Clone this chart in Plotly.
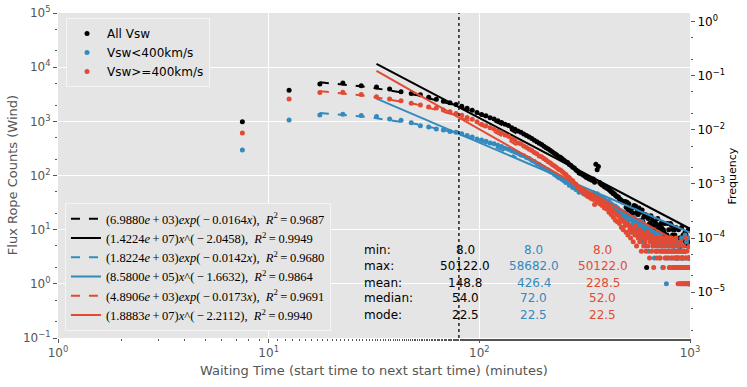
import plotly.graph_objects as go

# histogram bin centres (minutes)
waiting_time = [
    7.5, 12.5, 17.5, 22.5, 27.5, 32.5, 37.5, 42.5, 47.5, 52.5,
    57.5, 62.5, 67.5, 72.5, 77.5, 82.5, 87.5, 92.5, 97.5, 102.5,
    107.5, 112.5, 117.5, 122.5, 127.5, 132.5, 137.5, 142.5, 147.5, 152.5,
    157.5, 162.5, 167.5, 172.5, 177.5, 182.5, 187.5, 192.5, 197.5, 202.5,
    207.5, 212.5, 217.5, 222.5, 227.5, 232.5, 237.5, 242.5, 247.5, 252.5,
    257.5, 262.5, 267.5, 272.5, 277.5, 282.5, 287.5, 292.5, 297.5, 302.5,
    307.5, 312.5, 317.5, 322.5, 327.5, 332.5, 337.5, 342.5, 347.5, 352.5,
    357.5, 362.5, 367.5, 372.5, 377.5, 382.5, 387.5, 392.5, 397.5, 402.5,
    407.5, 412.5, 417.5, 422.5, 427.5, 432.5, 437.5, 442.5, 447.5, 452.5,
    457.5, 462.5, 467.5, 472.5, 477.5, 482.5, 487.5, 492.5, 497.5, 502.5,
    507.5, 512.5, 517.5, 522.5, 527.5, 532.5, 537.5, 542.5, 547.5, 552.5,
    557.5, 562.5, 567.5, 572.5, 577.5, 582.5, 587.5, 592.5, 597.5, 602.5,
    607.5, 612.5, 617.5, 622.5, 627.5, 632.5, 637.5, 642.5, 647.5, 652.5,
    657.5, 662.5, 667.5, 672.5, 677.5, 682.5, 687.5, 692.5, 697.5, 702.5,
    707.5, 712.5, 717.5, 722.5, 727.5, 732.5, 737.5, 742.5, 747.5, 752.5,
    757.5, 762.5, 767.5, 772.5, 777.5, 782.5, 787.5, 792.5, 797.5, 802.5,
    807.5, 812.5, 817.5, 822.5, 827.5, 832.5, 837.5, 842.5, 847.5, 852.5,
    857.5, 862.5, 867.5, 872.5, 877.5, 882.5, 887.5, 892.5, 897.5, 902.5,
    907.5, 912.5, 917.5, 922.5, 927.5, 932.5, 937.5, 942.5, 947.5, 952.5,
    957.5, 962.5, 967.5, 972.5, 977.5, 982.5, 987.5, 992.5, 997.5,
]

counts_all = [
    980, 3750, 4900, 5100, 4550, 4300, 3950, 3500, 3250, 3080,
    2780, 2560, 2350, 2200, 2040, 1900, 1740, 1610, 1460, 1340,
    1270, 1160, 1110, 1020, 955, 880, 840, 765, 718, 660,
    628, 583, 546, 512, 482, 449, 420, 392, 372, 347,
    327, 308, 290, 272, 256, 242, 224, 217, 204, 192,
    180, 174, 159, 153, 142, 137, 126, 121, 111, 109,
    106, 101, 97, 92, 90, 86, 85, 82, 86, 75,
    162, 128, 146, 74, 70, 67, 66, 62, 61, 59,
    57, 55, 53, 50, 49, 46, 46, 43, 42, 40,
    40, 37, 36, 34, 34, 32, 32, 33, 26, 32,
    23, 30, 23, 24, 21, 25, 20, 28, 19, 27,
    14, 22, 19, 25, 14, 21, 15, 23, 14, 17,
    18, 19, 10, 2, 18, 16, 12, 13, 13, 18,
    11, 15, 10, 12, 10, 14, 13, 9, 10, 16,
    12, 11, 10, 9, 13, 11, 9, 8, 10, 9,
    13, 8, 8, 7, 8, 13, 6, 10, 6, 7,
    13, 7, 12, 7, 8, 10, 5, 10, 8, 6,
    11, 6, 3, 6, 5, 10, 6, 7, 5, 7,
    5, 11, 3, 7, 8, 2, 8, 4, 9, 6,
    8, 7, 6, 5, 2, 10, 3, 6, 5,
]

counts_slow = [
    295, 1060, 1310, 1355, 1280, 1225, 1110, 1045, 940, 830,
    790, 725, 690, 650, 630, 590, 545, 515, 470, 452,
    430, 398, 384, 360, 342, 318, 305, 286, 270, 258,
    240, 231, 214, 205, 190, 181, 166, 160, 148, 140,
    131, 126, 117, 112, 104, 99, 92, 89, 84, 80,
    74, 77, 66, 68, 60, 63, 55, 57, 49, 52,
    54, 46, 50, 43, 47, 41, 45, 39, 48, 44,
    40, 46, 37, 41, 35, 38, 33, 36, 31, 34,
    29, 33, 27, 30, 25, 28, 24, 27, 22, 25,
    21, 23, 19, 22, 18, 21, 17, 20, 16, 19,
    14, 18, 12, 16, 9, 15, 13, 17, 10, 14,
    8, 13, 11, 15, 7, 12, 10, 14, 6, 11,
    9, 12, 5, 10, 8, 11, 4, 9, 7, 10,
    6, 8, 5, 9, 3, 7, 8, 4, 6, 9,
    5, 7, 3, 6, 8, 4, 5, 2, 7, 4,
    6, 3, 5, 1, 4, 6, 3, 5, 2, 4,
    7, 3, 5, 4, 2, 6, 3, 4, 5, 2,
    4, 3, 6, 2, 4, 5, 3, 2, 4, 1,
    3, 7, 2, 4, 3, 1, 4, 2, 8, 3,
    1, 6, 2, 3, 1, 7, 2, 1, 3,
]

counts_fast = [
    610, 2590, 3390, 3460, 3120, 2850, 2580, 2400, 2160, 2000,
    1840, 1760, 1620, 1500, 1390, 1300, 1180, 1090, 985, 880,
    830, 760, 720, 655, 610, 560, 530, 475, 445, 400,
    385, 350, 330, 305, 290, 266, 252, 230, 222, 205,
    194, 180, 171, 158, 150, 141, 130, 126, 118, 110,
    104, 95, 91, 83, 80, 72, 69, 62, 60, 55,
    50, 53, 45, 48, 41, 44, 38, 42, 36, 29,
    39, 33, 36, 30, 34, 28, 31, 25, 29, 24,
    27, 21, 25, 19, 23, 17, 21, 15, 19, 14,
    18, 13, 16, 11, 15, 10, 14, 12, 9, 13,
    8, 12, 10, 7, 11, 9, 6, 10, 8, 12,
    5, 9, 7, 10, 6, 8, 4, 9, 7, 5,
    8, 6, 4, 7, 9, 5, 7, 3, 6, 8,
    4, 7, 5, 2, 6, 7, 4, 5, 3, 7,
    6, 4, 7, 3, 5, 7, 4, 6, 2, 5,
    7, 4, 3, 6, 4, 7, 3, 5, 4, 2,
    6, 4, 7, 3, 5, 4, 2, 6, 3, 4,
    7, 3, 2, 4, 1, 5, 3, 4, 1, 6,
    2, 4, 1, 3, 5, 1, 4, 2, 1, 3,
    7, 1, 4, 2, 1, 3, 1, 5, 2,
]

# fitted curves
exp_x = [17.5, 30, 50, 75, 100, 125, 150]
exp_all = [5245, 4272, 3078, 2043, 1356, 899, 597]
exp_slow = [1421, 1190, 896, 628, 440, 309, 217]
exp_fast = [3613, 2910, 2059, 1336, 867, 562, 365]

pow_x = [32.5, 1000]
pow_all = [11480, 10.4]
pow_slow = [2620, 8.8]
pow_fast = [8570, 4.4]

fit_labels = [
    "(6.9880<i>e</i>\u2009+\u200903)<i>exp</i>(\u2009\u2212\u20090.0164<i>x</i>),  <i>R</i><sup>2</sup>\u2009=\u20090.9687",
    "(1.4224<i>e</i>\u2009+\u200907)<i>x</i>^(\u2009\u2212\u20092.0458),  <i>R</i><sup>2</sup>\u2009=\u20090.9949",
    "(1.8224<i>e</i>\u2009+\u200903)<i>exp</i>(\u2009\u2212\u20090.0142<i>x</i>),  <i>R</i><sup>2</sup>\u2009=\u20090.9680",
    "(8.5800<i>e</i>\u2009+\u200905)<i>x</i>^(\u2009\u2212\u20091.6632),  <i>R</i><sup>2</sup>\u2009=\u20090.9864",
    "(4.8906<i>e</i>\u2009+\u200903)<i>exp</i>(\u2009\u2212\u20090.0173<i>x</i>),  <i>R</i><sup>2</sup>\u2009=\u20090.9691",
    "(1.8883<i>e</i>\u2009+\u200907)<i>x</i>^(\u2009\u2212\u20092.2112),  <i>R</i><sup>2</sup>\u2009=\u20090.9940",
]

stat_names = ["min:", "max:", "mean:", "median:", "mode:"]
stats_all = ["8.0", "50122.0", "148.8", "54.0", "22.5"]
stats_slow = ["8.0", "58682.0", "426.4", "72.0", "22.5"]
stats_fast = ["8.0", "50122.0", "228.5", "52.0", "22.5"]

marker_line = 80

BLACK = "#000000"
BLUE = "#348ABD"
RED = "#E24A33"
GREY = "#555555"

series = [
    ("All Vsw", counts_all, exp_all, pow_all, BLACK),
    ("Vsw<400km/s", counts_slow, exp_slow, pow_slow, BLUE),
    ("Vsw>=400km/s", counts_fast, exp_fast, pow_fast, RED),
]

fig = go.Figure()
for k, (name, counts, e_fit, p_fit, col) in enumerate(series):
    fig.add_trace(go.Scatter(x=waiting_time, y=counts, mode="markers", name=name,
                             marker=dict(color=col, size=5), legend="legend"))
    fig.add_trace(go.Scatter(x=exp_x, y=e_fit, mode="lines", name=fit_labels[2 * k],
                             line=dict(color=col, width=2, dash="dash"), legend="legend2"))
    fig.add_trace(go.Scatter(x=pow_x, y=p_fit, mode="lines", name=fit_labels[2 * k + 1],
                             line=dict(color=col, width=2), legend="legend2"))

fig.add_trace(go.Scatter(x=[marker_line, marker_line], y=[0.1, 1e5], mode="lines",
                         line=dict(color="black", width=1.3, dash="dot"), showlegend=False))
# twin axis for frequency
fig.add_trace(go.Scatter(x=[], y=[], yaxis="y2", showlegend=False))

rows_y = [0.271, 0.221, 0.169, 0.122, 0.071]
for i in range(5):
    fig.add_annotation(x=0.481, y=rows_y[i], xref="paper", yref="paper", text=stat_names[i],
                       showarrow=False, xanchor="left", yanchor="middle",
                       font=dict(color="black", size=12))
    fig.add_annotation(x=0.644, y=rows_y[i], xref="paper", yref="paper", text=stats_all[i],
                       showarrow=False, xanchor="center", yanchor="middle",
                       font=dict(color="black", size=12))
    fig.add_annotation(x=0.753, y=rows_y[i], xref="paper", yref="paper", text=stats_slow[i],
                       showarrow=False, xanchor="center", yanchor="middle",
                       font=dict(color=BLUE, size=12))
    fig.add_annotation(x=0.862, y=rows_y[i], xref="paper", yref="paper", text=stats_fast[i],
                       showarrow=False, xanchor="center", yanchor="middle",
                       font=dict(color=RED, size=12))

fig.add_annotation(x=-0.0717, y=0.5, xref="paper", yref="paper", text="Flux Rope Counts (Wind)",
                   textangle=-90, showarrow=False, xanchor="center", yanchor="middle",
                   font=dict(color=GREY, size=13))
fig.add_annotation(x=0.5, y=-0.1015, xref="paper", yref="paper",
                   text="Waiting Time (start time to next start time) (minutes)",
                   showarrow=False, xanchor="center", yanchor="middle",
                   font=dict(color=GREY, size=13))
fig.add_annotation(x=1.068, y=0.5, xref="paper", yref="paper", text="Frequency",
                   textangle=-90, showarrow=False, xanchor="center", yanchor="middle",
                   font=dict(color="black", size=11))

fig.update_layout(
    width=747, height=387,
    margin=dict(l=58, r=57, t=13, b=49, autoexpand=False),
    paper_bgcolor="white",
    plot_bgcolor="#E5E5E5",
    font=dict(family="DejaVu Sans", size=12, color=GREY),
    legend=dict(x=0.0127, y=0.985, xanchor="left", yanchor="top",
                bgcolor="#E5E5E5", bordercolor="#F4F4F4", borderwidth=1,
                font=dict(size=12, color="black"), itemwidth=30, tracegroupgap=0),
    legend2=dict(x=0.011, y=0.415, xanchor="left", yanchor="top",
                 bgcolor="#E5E5E5", bordercolor="#F4F4F4", borderwidth=1,
                 font=dict(family="Liberation Serif", size=12.5, color="black"), itemwidth=30),
    xaxis=dict(type="log", range=[0, 3], showgrid=True, gridcolor="white", gridwidth=1,
               zeroline=False, automargin=False, tickvals=[1, 10, 100, 1000],
               ticktext=["10<sup>0</sup>", "10<sup>1</sup>", "10<sup>2</sup>", "10<sup>3</sup>"],
               ticks="outside", ticklen=4, tickcolor=GREY, tickfont=dict(size=12, color=GREY),
               minor=dict(ticks="outside", ticklen=2, tickcolor=GREY, showgrid=False)),
    yaxis=dict(type="log", range=[-1, 5], showgrid=True, gridcolor="white", gridwidth=1,
               zeroline=False, automargin=False, tickvals=[0.1, 1, 10, 100, 1000, 10000, 100000],
               ticktext=["10<sup>\u22121</sup>", "10<sup>0</sup>", "10<sup>1</sup>", "10<sup>2</sup>",
                         "10<sup>3</sup>", "10<sup>4</sup>", "10<sup>5</sup>"],
               ticks="outside", ticklen=4, tickcolor=GREY, tickfont=dict(size=12, color=GREY),
               minor=dict(ticks="outside", ticklen=2, tickcolor=GREY, showgrid=False)),
    yaxis2=dict(type="log", range=[-5.845, 0.155], overlaying="y", side="right", showgrid=False,
                zeroline=False, automargin=False, tickvals=[1e-5, 1e-4, 1e-3, 1e-2, 1e-1, 1],
                ticktext=["10<sup>\u22125</sup>", "10<sup>\u22124</sup>", "10<sup>\u22123</sup>",
                          "10<sup>\u22122</sup>", "10<sup>\u22121</sup>", "10<sup>0</sup>"],
                ticks="outside", ticklen=4, tickcolor=GREY, tickfont=dict(size=12, color="black"),
                minor=dict(ticks="outside", ticklen=2, tickcolor=GREY, showgrid=False)),
)

# the page's default body margin would offset the figure by 8px
fig.write_html("out.html", config={"displayModeBar": False},
               post_script="document.body.style.margin='0';")
